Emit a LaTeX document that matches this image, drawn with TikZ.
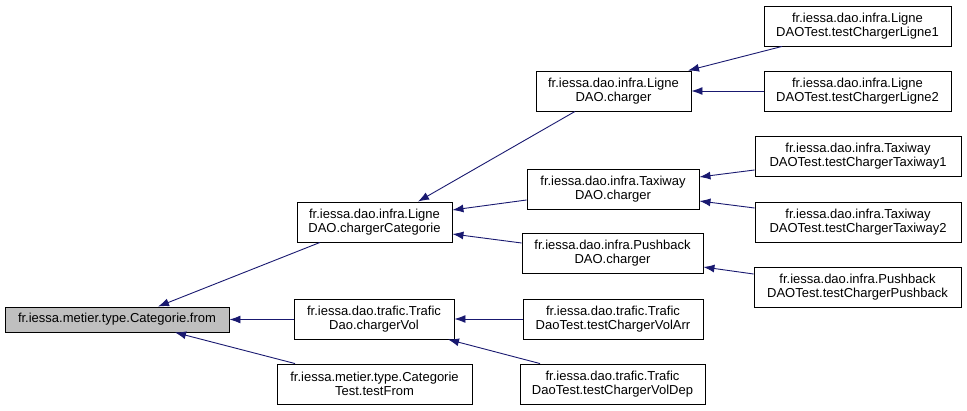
\documentclass[tikz,border=0pt]{standalone}
\usepackage{fontspec}
\setmainfont{Liberation Sans}
\usetikzlibrary{arrows.meta}
\definecolor{edgeblue}{RGB}{25,25,112}
\definecolor{boxgray}{RGB}{191,191,191}
\begin{document}
\begin{tikzpicture}[x=1pt,y=-1pt,
  box/.style={draw=black,line width=0.9pt,fill=white,inner sep=0pt,align=center,
    font=\fontsize{13}{14}\selectfont,minimum height=40pt},
  edge/.style={draw=edgeblue,line width=0.9pt,-{Latex[length=11pt,width=8pt]}}]
\useasboundingbox (0,0) rectangle (967,411);
\node[box,fill=boxgray,minimum width=224pt,minimum height=25pt] (from) at (117,319.5) {fr.iessa.metier.type.Categorie.from};
\node[box,minimum width=155pt] (cc) at (374.5,222) {fr.iessa.dao.infra.Ligne\\DAO.chargerCategorie};
\node[box,minimum width=160pt] (cv) at (374,319) {fr.iessa.dao.trafic.Trafic\\Dao.chargerVol};
\node[box,minimum width=195pt] (tf) at (374.5,384) {fr.iessa.metier.type.Categorie\\Test.testFrom};
\node[box,minimum width=155pt] (lc) at (613.5,91) {fr.iessa.dao.infra.Ligne\\DAO.charger};
\node[box,minimum width=172pt] (tc) at (613,189) {fr.iessa.dao.infra.Taxiway\\DAO.charger};
\node[box,minimum width=181pt] (pc) at (612.5,253.5) {fr.iessa.dao.infra.Pushback\\DAO.charger};
\node[box,minimum width=180pt] (arr) at (613,319) {fr.iessa.dao.trafic.Trafic\\DaoTest.testChargerVolArr};
\node[box,minimum width=185pt] (dep) at (612.5,384) {fr.iessa.dao.trafic.Trafic\\DaoTest.testChargerVolDep};
\node[box,minimum width=187pt] (lt1) at (857.5,26) {fr.iessa.dao.infra.Ligne\\DAOTest.testChargerLigne1};
\node[box,minimum width=187pt] (lt2) at (857.5,91) {fr.iessa.dao.infra.Ligne\\DAOTest.testChargerLigne2};
\node[box,minimum width=206pt] (tt1) at (858,156) {fr.iessa.dao.infra.Taxiway\\DAOTest.testChargerTaxiway1};
\node[box,minimum width=206pt] (tt2) at (858,222) {fr.iessa.dao.infra.Taxiway\\DAOTest.testChargerTaxiway2};
\node[box,minimum width=207pt] (pt) at (857.5,287) {fr.iessa.dao.infra.Pushback\\DAOTest.testChargerPushback};
% edges: caller -> callee (arrowhead at callee)
\draw[edge] ([xshift=-54.5pt]cc.south) -- ([xshift=41pt]from.north);
\draw[edge] (cv.west |- from.east) -- (from.east);
\draw[edge] ([xshift=-79.5pt]tf.north) -- ([xshift=58pt]from.south);
\draw[edge] ([xshift=-38.5pt]lc.south) -- ([xshift=43.5pt]cc.north);
\draw[edge] ([yshift=-11pt]tc.west) -- ([yshift=12pt]cc.east);
\draw[edge] ([yshift=10.5pt]pc.west) -- ([yshift=-12pt]cc.east);
\draw[edge] ([xshift=-75.5pt]lt1.south) -- ([xshift=74.5pt]lc.north);
\draw[edge] (lt2.west) -- (lc.east);
\draw[edge] ([yshift=-14pt]tt1.west) -- ([yshift=12pt]tc.east);
\draw[edge] ([yshift=14pt]tt2.west) -- ([yshift=-12pt]tc.east);
\draw[edge] ([yshift=13pt]pt.west) -- ([yshift=-13.5pt]pc.east);
\draw[edge] (arr.west) -- (cv.east);
\draw[edge] ([xshift=-72.5pt]dep.north) -- ([xshift=74pt]cv.south);
\end{tikzpicture}
\end{document}
